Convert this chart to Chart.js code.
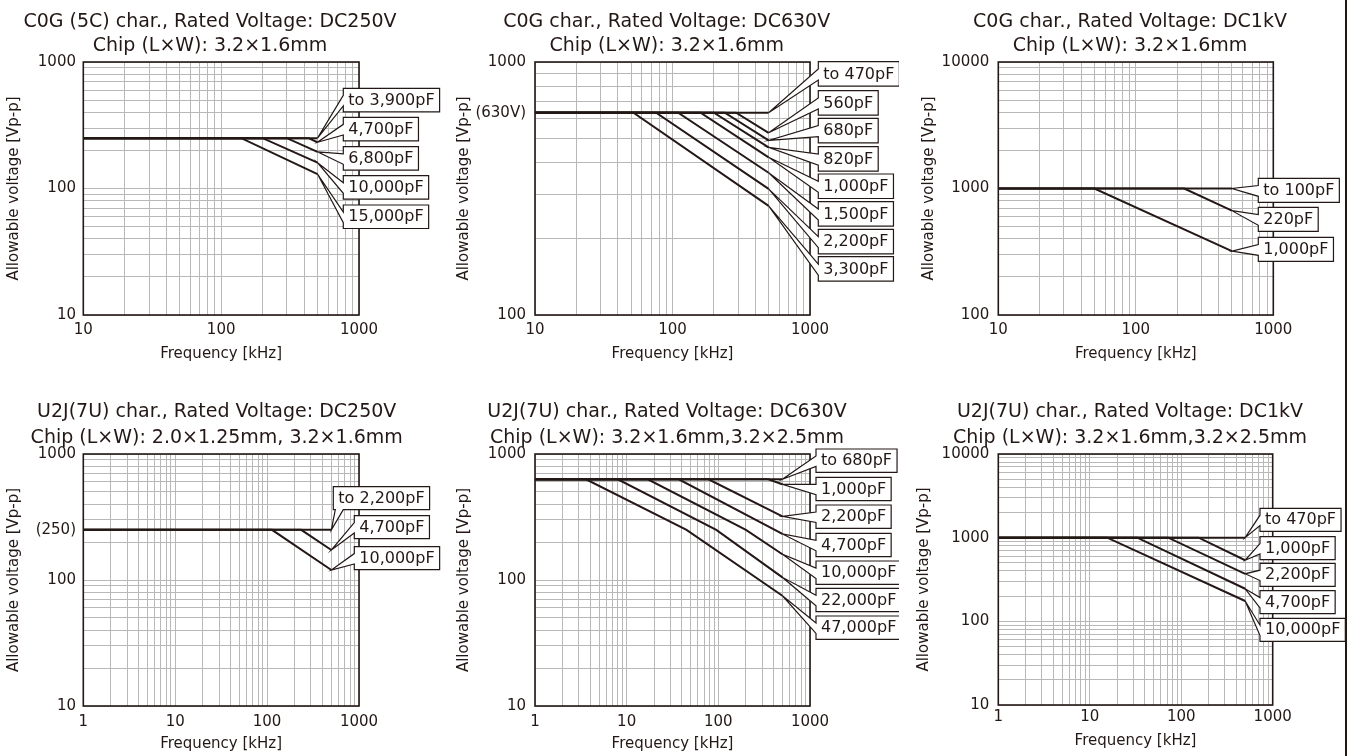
<!DOCTYPE html>
<html>
<head>
<meta charset="utf-8">
<title>Allowable voltage vs frequency</title>
<script src="https://cdn.jsdelivr.net/npm/chart.js@4.4.1/dist/chart.umd.min.js"></script>
<style>
  html, body { margin: 0; padding: 0; background: #fff; }
  #page { position: relative; width: 1348px; height: 756px; overflow: hidden; }
  #page canvas { position: absolute; }
  #edge { position: absolute; left: 1345px; top: 0; width: 2px; height: 756px; background: #231815; }
</style>
</head>
<body>
<div id="page"><div id="edge"></div></div>
<script>
// ============================
// DATA
// ============================
const xTicks10 = [10, 100, 1000];
const xTicks1 = [1, 10, 100, 1000];

// C0G (5C) 250V
const c0g250Y = [10, 100, 1000];
const c0g250YText = ['10', '100', '1000'];
const c0g250Caps = ['to 3,900pF', '4,700pF', '6,800pF', '10,000pF', '15,000pF'];
const c0g250Freq = [[10, 500], [10, 430, 500], [10, 300, 500], [10, 200, 500], [10, 140, 500]];
const c0g250Volt = [[250, 250], [250, 250, 232], [250, 250, 195], [250, 250, 160], [250, 250, 130]];

// C0G 630V
const c0g630Y = [100, 630, 1000];
const c0g630YText = ['100', '(630V)', '1000'];
const c0g630Caps = ['to 470pF', '560pF', '680pF', '820pF', '1,000pF', '1,500pF', '2,200pF', '3,300pF'];
const c0g630Freq = [[10, 500], [10, 290, 500], [10, 240, 500], [10, 200, 500], [10, 160, 500], [10, 110, 500], [10, 76, 500], [10, 52, 500]];
const c0g630Volt = [[630, 630], [630, 630, 525], [630, 630, 490], [630, 630, 460], [630, 630, 420], [630, 630, 365], [630, 630, 315], [630, 630, 270]];

// C0G 1kV
const c0g1kY = [100, 1000, 10000];
const c0g1kYText = ['100', '1000', '10000'];
const c0g1kCaps = ['to 100pF', '220pF', '1,000pF'];
const c0g1kFreq = [[10, 500], [10, 225, 500], [10, 50, 500]];
const c0g1kVolt = [[1000, 1000], [1000, 1000, 668], [1000, 1000, 320]];

// U2J (7U) 250V
const u2j250Y = [10, 100, 250, 1000];
const u2j250YText = ['10', '100', '(250)', '1000'];
const u2j250Caps = ['to 2,200pF', '4,700pF', '10,000pF'];
const u2j250Freq = [[1, 500], [1, 235, 500], [1, 113, 500]];
const u2j250Volt = [[250, 250], [250, 250, 173], [250, 250, 120]];

// U2J (7U) 630V
const u2j630Y = [10, 100, 1000];
const u2j630YText = ['10', '100', '1000'];
const u2j630Caps = ['to 680pF', '1,000pF', '2,200pF', '4,700pF', '10,000pF', '22,000pF', '47,000pF'];
const u2j630Freq = [[1, 500], [1, 350, 500], [1, 78, 500], [1, 37, 500], [1, 17, 200, 500], [1, 8, 95, 500], [1, 3.6, 45, 500]];
const u2j630Volt = [[630, 630], [630, 630, 575], [630, 630, 320], [630, 630, 232], [630, 630, 250, 160], [630, 630, 250, 105], [630, 630, 250, 75]];

// U2J (7U) 1kV
const u2j1kY = [10, 100, 1000, 10000];
const u2j1kYText = ['10', '100', '1000', '10000'];
const u2j1kCaps = ['to 470pF', '1,000pF', '2,200pF', '4,700pF', '10,000pF'];
const u2j1kFreq = [[1, 500], [1, 155, 500], [1, 72, 500], [1, 33, 500], [1, 15.5, 500]];
const u2j1kVolt = [[1000, 1000], [1000, 1000, 537], [1000, 1000, 370], [1000, 1000, 245], [1000, 1000, 175]];

// ============================
// STYLE
// ============================
const INK = '#231815';
const GRID = '#b8b8b8';
Chart.defaults.font.family = '"DejaVu Sans", sans-serif';
Chart.defaults.color = INK;

const panels = [
  { id: 'c0g250', left: 0, top: 0, w: 449, h: 370,
    title: ['C0G (5C) char., Rated Voltage: DC250V', 'Chip (L×W): 3.2×1.6mm'], tx: 210, ty: [26.7, 50.7],
    xMin: 10, xMax: 1000, xVals: xTicks10, yMin: 10, yMax: 1000, yVals: c0g250Y, yText: c0g250YText,
    caps: c0g250Caps, freq: c0g250Freq, volt: c0g250Volt,
    pad: { left: 0, top: 62, right: 90, bottom: 5 }, xh: 50, xTickPad: 6.5, xTitlePad: 1.8,
    yw: 83.3, yTickPad: 7.3, yTitlePad: 5,
    boxDx: [-15.7, -15.7, -15.7, -15.7, -15.7], boxTops: [88.3, 117.3, 146.7, 175.7, 205], boxH: 23.5 },
  { id: 'c0g630', left: 450, top: 0, w: 449, h: 370,
    title: ['C0G char., Rated Voltage: DC630V', 'Chip (L×W): 3.2×1.6mm'], tx: 216.7, ty: [26.7, 50.7],
    xMin: 10, xMax: 1000, xVals: xTicks10, yMin: 100, yMax: 1000, yVals: c0g630Y, yText: c0g630YText,
    caps: c0g630Caps, freq: c0g630Freq, volt: c0g630Volt,
    pad: { left: 0, top: 62, right: 89, bottom: 5 }, xh: 50, xTickPad: 6.5, xTitlePad: 1.8,
    yw: 85, yTickPad: 9, yTitlePad: 5,
    boxDx: [8.3, 8.3, 8.3, 8.3, 8.3, 8.3, 8.3, 8.3],
    boxTops: [61.7, 90.7, 118.3, 146.7, 174, 201.7, 229.3, 256.7], boxH: 24.5 },
  { id: 'c0g1k', left: 900, top: 0, w: 448, h: 370,
    title: ['C0G char., Rated Voltage: DC1kV', 'Chip (L×W): 3.2×1.6mm'], tx: 230, ty: [26.7, 50.7],
    xMin: 10, xMax: 1000, xVals: xTicks10, yMin: 100, yMax: 10000, yVals: c0g1kY, yText: c0g1kYText,
    caps: c0g1kCaps, freq: c0g1kFreq, volt: c0g1kVolt,
    pad: { left: 0, top: 62, right: 74.7, bottom: 5 }, xh: 50, xTickPad: 6.5, xTitlePad: 1.8,
    yw: 98.3, yTickPad: 9, yTitlePad: 20,
    boxDx: [-15, -15, -15], boxTops: [178.3, 207.3, 237.3], boxH: 24 },
  { id: 'u2j250', left: 0, top: 370, w: 449, h: 386,
    title: ['U2J(7U) char., Rated Voltage: DC250V', 'Chip (L×W): 2.0×1.25mm, 3.2×1.6mm'], tx: 216.7, ty: [46.7, 72.7],
    xMin: 1, xMax: 1000, xVals: xTicks1, yMin: 10, yMax: 1000, yVals: u2j250Y, yText: u2j250YText,
    caps: u2j250Caps, freq: u2j250Freq, volt: u2j250Volt,
    pad: { left: 0, top: 84, right: 90, bottom: 2 }, xh: 48, xTickPad: 6.7, xTitlePad: 0.5,
    yw: 83.3, yTickPad: 7.3, yTitlePad: 5,
    boxDx: [-25.7, -4.7, -4.7], boxTops: [116.7, 145.7, 176.7], boxH: 23, below: [true, false, false] },
  { id: 'u2j630', left: 450, top: 370, w: 449, h: 386,
    title: ['U2J(7U) char., Rated Voltage: DC630V', 'Chip (L×W): 3.2×1.6mm,3.2×2.5mm'], tx: 217, ty: [46.7, 72.7],
    xMin: 1, xMax: 1000, xVals: xTicks1, yMin: 10, yMax: 1000, yVals: u2j630Y, yText: u2j630YText,
    caps: u2j630Caps, freq: u2j630Freq, volt: u2j630Volt,
    pad: { left: 0, top: 84, right: 89, bottom: 2 }, xh: 48, xTickPad: 6.7, xTitlePad: 0.5,
    yw: 85, yTickPad: 9, yTitlePad: 5,
    boxDx: [6, 6, 6, 6, 6, 6, 6], boxTops: [79, 107.3, 135, 163.3, 191, 218.3, 246], boxH: 23.3 },
  { id: 'u2j1k', left: 900, top: 370, w: 448, h: 386,
    title: ['U2J(7U) char., Rated Voltage: DC1kV', 'Chip (L×W): 3.2×1.6mm,3.2×2.5mm'], tx: 230, ty: [46.7, 72.7],
    xMin: 1, xMax: 1000, xVals: xTicks1, yMin: 10, yMax: 10000, yVals: u2j1kY, yText: u2j1kYText,
    caps: u2j1kCaps, freq: u2j1kFreq, volt: u2j1kVolt,
    pad: { left: 0, top: 84, right: 75.3, bottom: 2 }, xh: 49, xTickPad: 3.2, xTitlePad: 4.2,
    yw: 98.3, yTickPad: 9, yTitlePad: 15,
    boxDx: [-12.7, -12.7, -12.7, -12.7, -12.7], boxTops: [138.3, 166.7, 193.3, 220.7, 248.3], boxH: 23 }
];

// 1..9 per decade grid values
function logGrid(min, max) {
  const vals = [];
  for (let d = min; d < max; d *= 10) {
    for (let k = 1; k < 10; k++) vals.push(k * d);
  }
  vals.push(max);
  return vals;
}

function logAxis(min, max, labelVals, labelText, size, tickPad, titleText, titlePad) {
  const minor = logGrid(min, max);
  const extra = labelVals.filter(v => !minor.includes(v));
  const all = [...new Set(minor.concat(labelVals))].sort((a, b) => a - b);
  return {
    type: 'logarithmic',
    min: min,
    max: max,
    afterBuildTicks: s => { s.ticks = all.map(v => ({ value: v })); },
    afterFit: s => { if (s.isHorizontal()) s.height = size; else s.width = size; },
    grid: {
      color: c => (c.tick && extra.includes(c.tick.value)) ? 'rgba(0,0,0,0)' : GRID,
      lineWidth: 1,
      drawTicks: false
    },
    border: { display: false },
    ticks: {
      autoSkip: false, maxRotation: 0, minRotation: 0,
      padding: tickPad,
      font: { size: 15 },
      callback: v => { const i = labelVals.indexOf(v); return i < 0 ? '' : labelText[i]; }
    },
    title: { display: true, text: titleText, font: { size: 15 }, padding: titlePad }
  };
}

// frame, title and callout boxes
function decor(p) {
  return {
    id: 'decor_' + p.id,
    afterDraw(chart) {
      const { ctx, chartArea: a } = chart;
      const xs = chart.scales.x, ys = chart.scales.y;
      ctx.save();

      ctx.strokeStyle = INK;
      ctx.lineWidth = 1.6;
      ctx.strokeRect(a.left, a.top, a.right - a.left, a.bottom - a.top);

      ctx.fillStyle = INK;
      ctx.font = '19px "DejaVu Sans"';
      ctx.textAlign = 'center';
      ctx.textBaseline = 'alphabetic';
      p.title.forEach((t, i) => ctx.fillText(t, p.tx, p.ty[i]));

      ctx.font = '16px "DejaVu Sans"';
      ctx.textAlign = 'left';
      ctx.textBaseline = 'middle';
      ctx.lineWidth = 1.2;
      p.caps.forEach((label, i) => {
        const f = p.freq[i], v = p.volt[i];
        const ax = xs.getPixelForValue(f[f.length - 1]);
        const ay = ys.getPixelForValue(v[v.length - 1]);
        const bx = a.right + p.boxDx[i], by = p.boxTops[i], h = p.boxH;
        const w = ctx.measureText(label).width + 10;

        ctx.beginPath();
        if (p.below && p.below[i]) {
          ctx.moveTo(bx, by);
          ctx.lineTo(bx + w, by);
          ctx.lineTo(bx + w, by + h);
          ctx.lineTo(bx + 10, by + h);
          ctx.lineTo(ax, ay);
          ctx.lineTo(bx + 2, by + h);
          ctx.lineTo(bx, by + h);
        } else {
          ctx.moveTo(bx, by);
          ctx.lineTo(bx + w, by);
          ctx.lineTo(bx + w, by + h);
          ctx.lineTo(bx, by + h);
          ctx.lineTo(bx, by + h * 0.75);
          ctx.lineTo(ax, ay);
          ctx.lineTo(bx, by + h * 0.3);
        }
        ctx.closePath();
        ctx.fillStyle = '#fff';
        ctx.fill();
        ctx.strokeStyle = INK;
        ctx.stroke();

        ctx.fillStyle = INK;
        ctx.fillText(label, bx + 5, by + h / 2 + 0.5);
      });
      ctx.restore();
    }
  };
}

// ============================
// BUILD CHARTS
// ============================
const page = document.getElementById('page');

panels.forEach(p => {
  const cv = document.createElement('canvas');
  cv.width = p.w;
  cv.height = p.h;
  cv.style.left = p.left + 'px';
  cv.style.top = p.top + 'px';
  page.insertBefore(cv, page.firstChild);

  const datasets = p.caps.map((c, i) => ({
    label: c,
    data: p.freq[i].map((f, j) => ({ x: f, y: p.volt[i][j] })),
    borderColor: INK,
    borderWidth: 2,
    pointRadius: 0,
    fill: false,
    tension: 0
  }));

  new Chart(cv, {
    type: 'line',
    data: { datasets: datasets },
    options: {
      responsive: false,
      animation: false,
      devicePixelRatio: 1,
      layout: { padding: p.pad },
      plugins: { legend: { display: false }, tooltip: { enabled: false } },
      scales: {
        x: Object.assign(
          logAxis(p.xMin, p.xMax, p.xVals, p.xVals.map(String), p.xh, p.xTickPad,
            'Frequency [kHz]', { top: 0, bottom: p.xTitlePad }),
          { position: 'bottom' }),
        y: Object.assign(
          logAxis(p.yMin, p.yMax, p.yVals, p.yText, p.yw, p.yTickPad,
            'Allowable voltage [Vp-p]', { top: p.yTitlePad, bottom: 0 }),
          { position: 'left' })
      }
    },
    plugins: [decor(p)]
  });
});
</script>
</body>
</html>
